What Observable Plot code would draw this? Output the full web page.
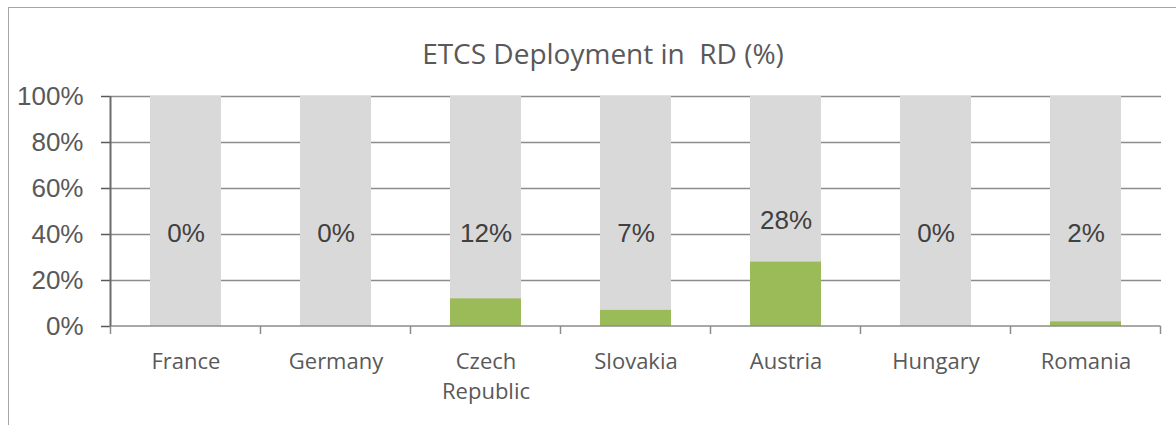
<!DOCTYPE html>
<html><head><meta charset="utf-8">
<script src="https://cdn.jsdelivr.net/npm/d3@7"></script>
<script src="https://cdn.jsdelivr.net/npm/@observablehq/plot@0.6"></script>
<style>
body{margin:0;background:#fff;}
#wrap{position:relative;width:1176px;height:425px;overflow:hidden;}
#frame{position:absolute;left:8px;top:7px;width:1300px;height:600px;border-left:1.5px solid #a6a6a6;border-top:1.5px solid #a6a6a6;pointer-events:none;}
#wrap svg{position:absolute;left:0;top:0;}
</style></head><body>
<div id="wrap"><div id="frame"></div></div>
<script>
const title = "ETCS Deployment in  RD (%)";
const countries = ["France", "Germany", "Czech Republic", "Slovakia", "Austria", "Hungary", "Romania"];
const deployment = [0, 0, 12, 7, 28, 0, 2];
const yTicks = [0, 20, 40, 60, 80, 100];

const data = countries.map((c, i) => ({country: c, value: deployment[i]}));

const plot = Plot.plot({
  width: 1176,
  height: 425,
  marginLeft: 110,
  marginRight: 15,
  marginTop: 96,
  marginBottom: 99,
  style: {background: "transparent", overflow: "visible", fontFamily: "Liberation Sans, Arial, sans-serif"},
  x: {domain: countries, paddingInner: 0.527, paddingOuter: 0.2635, axis: null, label: null},
  y: {domain: [0, 100], axis: null, label: null},
  marks: [
    Plot.ruleY(yTicks.slice(1), {stroke: "#8c8c8c", strokeWidth: 1.5}),
    Plot.barY(data, {x: "country", y1: 0, y2: 100, fill: "#d9d9d9"}),
    Plot.barY(data, {x: "country", y: "value", fill: "#9bbb59"}),
    Plot.axisY(yTicks, {label: null, tickSize: 9, tickPadding: 18, tickFormat: d => d + "%", fontSize: 26, color: "#595959", strokeWidth: 1.5}),
    Plot.axisX({label: null, tickSize: 0, tickPadding: 21, fontSize: 22, fontFamily: "Open Sans", color: "#595959", lineHeight: 1.36, tickFormat: d => d.replace(" ", "\n")}),
    Plot.text(data, {x: "country", y: d => Math.max(d.value + 18, 40.5), text: d => d.value + "%", fontSize: 26, fill: "#404040"}),
    Plot.text([title], {frameAnchor: "top", lineAnchor: "middle", dy: -41, dx: -33, fontSize: 28, fontFamily: "Open Sans", fill: "#595959"})
  ]
});

const sx = plot.scale("x");
const sy = plot.scale("y");
const y0 = sy.apply(0), y100 = sy.apply(100);
const gap = (sx.step - sx.bandwidth) / 2;
const bounds = countries.map(c => sx.apply(c) - gap);
bounds.push(sx.apply(countries[countries.length - 1]) + sx.bandwidth + gap);
const svg = d3.select(plot);
const g = svg.append("g");
g.selectAll("line.b").data(bounds).join("line")
  .attr("x1", d => d).attr("x2", d => d)
  .attr("y1", y0).attr("y2", y0 + 8)
  .attr("stroke", "#8c8c8c").attr("stroke-width", 1.5);
g.append("line").attr("x1", bounds[0]).attr("x2", bounds[bounds.length - 1])
  .attr("y1", y0).attr("y2", y0).attr("stroke", "#8c8c8c").attr("stroke-width", 1.5);
g.append("line").attr("x1", bounds[0]).attr("x2", bounds[0])
  .attr("y1", y100).attr("y2", y0).attr("stroke", "#6b6b6b").attr("stroke-width", 2);
svg.selectAll("text").style("white-space", "pre");
document.getElementById("wrap").appendChild(plot);
</script>
</body></html>
